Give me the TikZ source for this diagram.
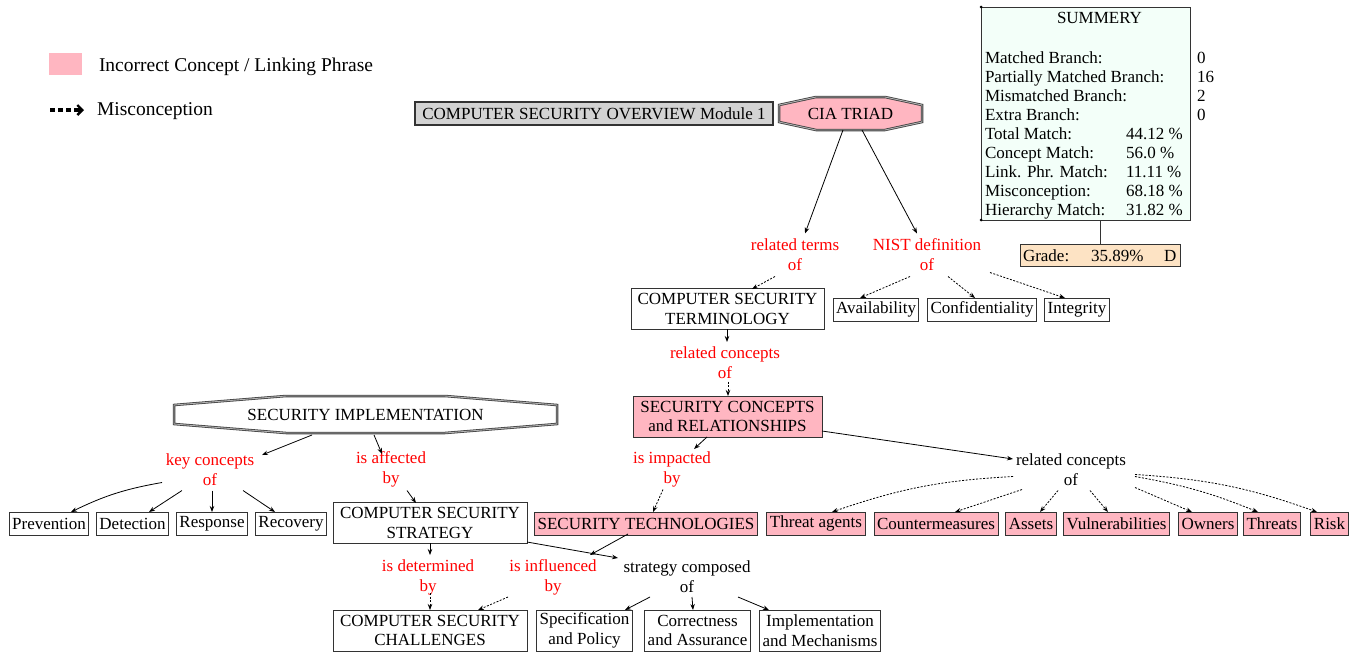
\documentclass[tikz,border=0pt]{standalone}
\usepackage{fontspec}
\setmainfont{Liberation Serif}
\usetikzlibrary{arrows.meta}
\definecolor{pinkc}{HTML}{FFB6C1}
\definecolor{graybox}{HTML}{D3D3D3}
\definecolor{mintc}{HTML}{F3FFF9}
\definecolor{peachc}{HTML}{FDE3C4}
\definecolor{edgec}{HTML}{333333}
\newcommand\fsz{\fontsize{17}{20}\selectfont}
% octagon: cx, cy, half width, half height, chamfer x, chamfer y, style
\newcommand\myoct[7]{\path[#7] ({#1-#3+#5},{#2-#4}) -- ({#1+#3-#5},{#2-#4}) -- ({#1+#3},{#2-#4+#6}) -- ({#1+#3},{#2+#4-#6}) -- ({#1+#3-#5},{#2+#4}) -- ({#1-#3+#5},{#2+#4}) -- ({#1-#3},{#2+#4-#6}) -- ({#1-#3},{#2-#4+#6}) -- cycle;}
\begin{document}
\begin{tikzpicture}[x=1pt,y=-1pt,
  every node/.style={font=\fsz, inner sep=0pt, outer sep=0pt},
  box/.style={draw=edgec, line width=1pt, fill=white, inner xsep=3pt, inner ysep=0pt, minimum height=23pt, align=center},
  boxtwo/.style={box, minimum height=41pt, font=\fontsize{17}{19.5}\selectfont},
  wrong/.style={box, fill=pinkc},
  lbl/.style={text=red, align=center},
  blbl/.style={text=black, align=center},
  octline/.style={draw=black!75, double=black!30, double distance=0.9pt, line width=0.8pt},
  arr/.style={draw=black, line width=0.8pt, -{Stealth[length=6pt,width=4.5pt]}},
  mis/.style={arr, dash pattern=on 2pt off 1.5pt},
  plain/.style={draw=edgec, line width=1pt},
]
\useasboundingbox (0,0) rectangle (1356,654);

% ---------- legend ----------
\node[fill=pinkc, minimum width=33pt, minimum height=22pt] (legsq) at (65.5,64) {};
\node[anchor=west, font=\fontsize{19.5}{22}\selectfont] (legtxt) at (99,67) {Incorrect Concept / Linking Phrase};
\coordinate (lega) at (50,110);
\coordinate (legb) at (77,110);
\coordinate (legc) at (84,110);
\draw[line width=3.2pt, dash pattern=on 5pt off 3pt] (lega) -- (legb);
\draw[line width=3.2pt, -{Straight Barb[length=5pt,width=10pt,line width=2.4pt]}] (legb) -- (legc);
\node[anchor=west, font=\fontsize{19.5}{22}\selectfont] (legmis) at (97,111) {Misconception};

% ---------- title & CIA ----------
\node[box, fill=graybox, line width=1.5pt, minimum width=358pt] (title) at (594,113.5) {COMPUTER SECURITY OVERVIEW Module 1};
\myoct{850.5}{113.5}{71.5}{16.5}{37}{8}{octline, fill=pinkc}
\node[minimum width=143pt, minimum height=33pt] (cia) at (850.5,113.5) {CIA TRIAD};

% ---------- summary ----------
\node[draw=edgec, line width=1pt, fill=mintc, minimum width=209pt, minimum height=213pt] (summary) at (1085.5,113.5) {};
\fill[black] (summary.north west) circle (1.5pt) (summary.south west) circle (1.5pt);
\node[anchor=base] (sumt) at (1099.5,23) {SUMMERY};
\node[anchor=base west] (s1) at (985,63) {Matched Branch:};
\node[anchor=base west] (s2) at (985,82) {Partially Matched Branch:};
\node[anchor=base west] (s3) at (985,101) {Mismatched Branch:};
\node[anchor=base west] (s4) at (985,120) {Extra Branch:};
\node[anchor=base west] (s5) at (985,139) {Total Match:};
\node[anchor=base west] (s6) at (985,158.5) {Concept Match:};
\node[anchor=base west] (s7) at (985,177.5) {Link. Phr. Match:};
\node[anchor=base west] (s8) at (985,196.5) {Misconception:};
\node[anchor=base west] (s9) at (985,215.5) {Hierarchy Match:};
\node[anchor=base west] (v1) at (1197,63) {0};
\node[anchor=base west] (v2) at (1197,82) {16};
\node[anchor=base west] (v3) at (1197,101) {2};
\node[anchor=base west] (v4) at (1197,120) {0};
\node[anchor=base west] (v5) at (1126,139) {44.12 \%};
\node[anchor=base west] (v6) at (1126,158.5) {56.0 \%};
\node[anchor=base west] (v7) at (1126,177.5) {11.11 \%};
\node[anchor=base west] (v8) at (1126,196.5) {68.18 \%};
\node[anchor=base west] (v9) at (1126,215.5) {31.82 \%};
\node[draw=edgec, fill=peachc, line width=1pt, minimum width=160pt, minimum height=22pt] (grade) at (1100,255) {};
\node[anchor=base west] (gradea) at (1023,261) {Grade:};
\node[anchor=base west] (gradeb) at (1091,261) {35.89\%};
\node[anchor=base west] (gradec) at (1164,261) {D};
\draw[plain] (grade.north |- summary.south) -- (grade.north);

% ---------- upper branch ----------
\node[lbl] (rto) at (795,254.5) {related terms\\of};
\node[lbl] (nist) at (927,254.5) {NIST definition\\of};
\node[boxtwo, minimum width=193pt] (term) at (727.5,309) {COMPUTER SECURITY\\TERMINOLOGY};
\node[box] (avail) at (876,309.5) {Availability};
\node[box] (conf) at (982,309.5) {Confidentiality};
\node[box] (integ) at (1077,309.5) {Integrity};
\node[lbl] (rco) at (725,362.5) {related concepts\\of};
\node[wrong, minimum height=41pt, minimum width=189pt, font=\fontsize{17}{19.5}\selectfont] (scr) at (727.5,416.5) {SECURITY CONCEPTS\\and RELATIONSHIPS};
\node[blbl] (rcb) at (1071,469.5) {related concepts\\of};
\node[lbl] (imp) at (672,469.5) {is impacted\\by};
\node[wrong] (tech) at (646,523.5) {SECURITY TECHNOLOGIES};
\node[wrong] (ta) at (816,523.5) {Threat agents};
\node[wrong] (cm) at (936,523.5) {Countermeasures};
\node[wrong] (assets) at (1031,523.5) {Assets};
\node[wrong] (vuln) at (1116.5,523.5) {Vulnerabilities};
\node[wrong] (own) at (1208,523.5) {Owners};
\node[wrong] (thr) at (1272,523.5) {Threats};
\node[wrong] (risk) at (1329.5,523.5) {Risk};

% ---------- implementation branch ----------
\myoct{365.5}{414.5}{191.5}{18.5}{112}{9}{octline, fill=white}
\node[minimum width=383pt, minimum height=37pt] (impl) at (365.5,414.5) {SECURITY IMPLEMENTATION};
\node[lbl] (kco) at (210,469.5) {key concepts\\of};
\node[lbl] (aff) at (391,469.5) {is affected\\by};
\node[box] (prev) at (49,523.5) {Prevention};
\node[box] (dete) at (132.5,523.5) {Detection};
\node[box] (resp) at (212,523.5) {Response};
\node[box] (reco) at (291,523.5) {Recovery};
\node[boxtwo, minimum width=194pt] (strat) at (430,523) {COMPUTER SECURITY\\STRATEGY};
\node[lbl] (det) at (428,577) {is determined\\by};
\node[lbl] (infl) at (553,577) {is influenced\\by};
\node[blbl] (comp) at (687,577) {strategy composed\\of};
\node[boxtwo, minimum width=194pt] (chal) at (430,630.5) {COMPUTER SECURITY\\CHALLENGES};
\node[boxtwo] (spec) at (584.5,630.5) {Specification\\and Policy};
\node[boxtwo] (corr) at (697.5,630.5) {Correctness\\and Assurance};
\node[boxtwo] (mech) at (820,630.5) {Implementation\\and Mechanisms};

% ---------- connectors ----------
\draw[arr] ([shift={(-7.5,16.5)}]cia.center) -- ([shift={(10,-21)}]rto.center);
\draw[arr] ([shift={(11.5,16.5)}]cia.center) -- ([shift={(-10,-21)}]nist.center);
\draw[mis] ([shift={(-20,22)}]rto.center) -- ([shift={(24.5,-20)}]term.center);
\draw[mis] ([shift={(-17,22)}]nist.center) -- ([shift={(-16,-11.5)}]avail.center);
\draw[mis] ([shift={(21,22)}]nist.center) -- ([shift={(-7,-11.5)}]conf.center);
\draw[mis] ([shift={(63,18)}]nist.center) -- ([shift={(-12,-11.5)}]integ.center);
\draw[arr] ([shift={(-0.5,20)}]term.center) -- ([shift={(2,-20.5)}]rco.center);
\draw[mis] ([shift={(3,19)}]rco.center) -- ([shift={(0.5,-20.5)}]scr.center);
\draw[arr] ([shift={(-20.5,20.5)}]scr.center) -- ([shift={(22,-20.5)}]imp.center);
\draw[arr] ([shift={(94.5,14.5)}]scr.center) -- ([shift={(-58,-10.5)}]rcb.center);
\draw[mis] ([shift={(-9,20)}]imp.center) -- ([shift={(7,-11.5)}]tech.center);
\draw[mis] ([shift={(-58,7)}]rcb.center) to[bend right=8] ([shift={(16,-11.5)}]ta.center);
\draw[mis] ([shift={(-49,20)}]rcb.center) -- ([shift={(19,-11.5)}]cm.center);
\draw[mis] ([shift={(-13,21)}]rcb.center) -- ([shift={(9,-11.5)}]assets.center);
\draw[mis] ([shift={(19,21)}]rcb.center) -- ([shift={(-8.5,-11.5)}]vuln.center);
\draw[mis] ([shift={(64,18)}]rcb.center) -- ([shift={(-16,-11.5)}]own.center);
\draw[mis] ([shift={(64,7)}]rcb.center) to[bend left=6] ([shift={(-14,-11.5)}]thr.center);
\draw[mis] ([shift={(64,5)}]rcb.center) to[bend left=8] ([shift={(-12.5,-11.5)}]risk.center);
\draw[arr] ([shift={(-53.5,20.5)}]impl.center) -- ([shift={(52,-14.5)}]kco.center);
\draw[arr] ([shift={(8.5,20.5)}]impl.center) -- ([shift={(-9,-15.5)}]aff.center);
\draw[arr] ([shift={(-48,13)}]kco.center) to[bend right=8] ([shift={(22,-11.5)}]prev.center);
\draw[arr] ([shift={(-28,21)}]kco.center) -- ([shift={(16.5,-11.5)}]dete.center);
\draw[arr] ([shift={(2,21)}]kco.center) -- ([shift={(0,-11.5)}]resp.center);
\draw[arr] ([shift={(33,21)}]kco.center) -- ([shift={(-16,-11.5)}]reco.center);
\draw[arr] ([shift={(16,21)}]aff.center) -- ([shift={(-14,-20)}]strat.center);
\draw[arr] ([shift={(0,20)}]strat.center) -- ([shift={(2,-22)}]det.center);
\draw[mis] ([shift={(2,16)}]det.center) -- ([shift={(0,-20.5)}]chal.center);
\draw[mis] ([shift={(-45,20)}]infl.center) -- ([shift={(48,-20.5)}]chal.center);
\draw[arr] ([shift={(-18,10.5)}]tech.center) -- ([shift={(37,-22)}]infl.center);
\draw[arr] ([shift={(97,19)}]strat.center) -- ([shift={(-69,-19)}]comp.center);
\draw[arr] ([shift={(-37,20)}]comp.center) -- ([shift={(40.5,-20.5)}]spec.center);
\draw[arr] ([shift={(5,20)}]comp.center) -- ([shift={(-4.5,-20.5)}]corr.center);
\draw[arr] ([shift={(51,20)}]comp.center) -- ([shift={(-51,-20.5)}]mech.center);
\end{tikzpicture}
\end{document}
